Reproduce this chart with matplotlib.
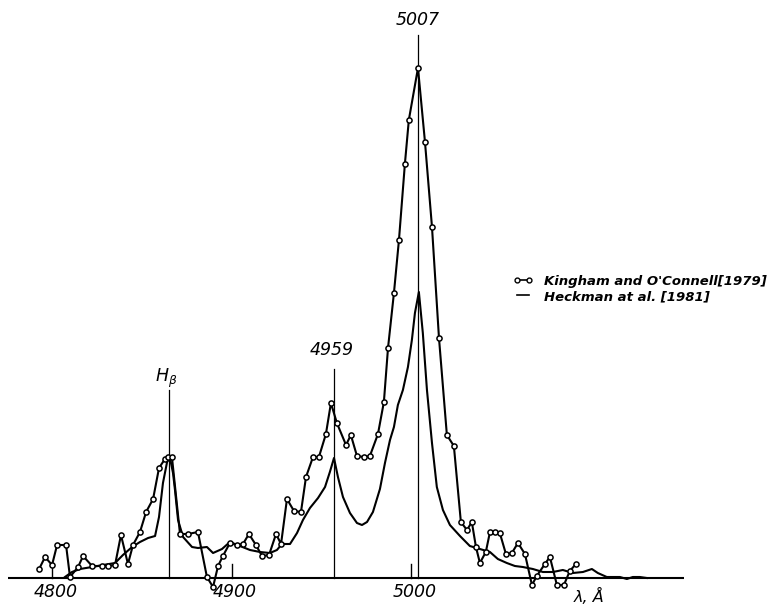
import matplotlib
matplotlib.use("Agg")
import matplotlib.pyplot as plt
from matplotlib.lines import Line2D

# Kingham & O'Connell (1979): wavelength (Å) and relative intensity
ko_wl = [4792.8, 4796.1, 4800.0, 4802.8, 4807.8, 4810.0, 4814.5, 4817.3, 4822.3, 4827.9,
         4831.2, 4835.1, 4838.4, 4842.3, 4845.1, 4849.0, 4852.4, 4856.3, 4859.6, 4862.9,
         4864.6, 4866.8, 4871.3, 4875.8, 4881.3, 4886.3, 4889.7, 4892.5, 4895.2, 4899.1,
         4903.0, 4906.4, 4909.7, 4913.6, 4917.0, 4920.9, 4924.8, 4927.6, 4930.9, 4934.8,
         4938.7, 4941.5, 4945.4, 4948.7, 4952.6, 4955.4, 4958.7, 4963.8, 4966.5, 4969.9,
         4973.8, 4977.1, 4981.6, 4984.9, 4987.2, 4990.5, 4993.3, 4996.6, 4998.8, 5003.9,
         5007.8, 5011.7, 5015.6, 5020.0, 5023.9, 5027.8, 5031.2, 5033.9, 5036.2, 5038.4,
         5041.7, 5044.0, 5046.8, 5049.5, 5052.9, 5056.2, 5059.6, 5063.5, 5067.4, 5070.1,
         5074.6, 5077.4, 5081.3, 5085.2, 5088.5, 5091.9]
ko_int = [9, 21, 13, 33, 33, 1, 11, 22, 12, 12,
          12, 13, 43, 14, 33, 46, 66, 79, 110, 119,
          121, 121, 44, 44, 46, 1, -9, 12, 22, 35,
          33, 34, 44, 33, 22, 23, 44, 34, 79, 67,
          66, 101, 121, 121, 144, 175, 155, 133, 143, 122,
          121, 122, 144, 176, 230, 285, 338, 414, 458, 510,
          436, 351, 240, 143, 132, 56, 48, 56, 31, 15,
          26, 46, 46, 45, 24, 25, 35, 24, -7, 2,
          14, 21, -7, -7, 7, 14]

# Heckman et al. (1981)
he_wl = [4807.2, 4811.1, 4815.6, 4822.3, 4828.4, 4835.1, 4839.5, 4844.6, 4849.0, 4853.5,
         4857.4, 4859.6, 4861.8, 4864.1, 4865.7, 4867.4, 4868.5, 4870.2, 4873.0, 4878.0,
         4881.3, 4886.3, 4889.7, 4894.7, 4899.1, 4904.7, 4910.3, 4915.9, 4921.4, 4925.3,
         4928.1, 4932.6, 4936.5, 4939.8, 4943.7, 4948.2, 4952.1, 4954.8, 4957.1, 4959.3,
         4962.1, 4966.0, 4969.9, 4972.7, 4975.5, 4978.8, 4982.7, 4985.5, 4988.3, 4990.5,
         4992.7, 4995.5, 4998.3, 5000.5, 5002.2, 5004.4, 5006.6, 5008.9, 5011.7, 5014.4,
         5017.8, 5021.7, 5027.3, 5032.8, 5038.4, 5044.0, 5048.4, 5053.4, 5057.9, 5062.3,
         5067.9, 5073.5, 5079.1, 5084.6, 5090.2, 5095.8, 5100.8, 5104.1, 5109.1, 5112.5,
         5116.4, 5120.3, 5123.6, 5127.5, 5131.4]
he_int = [1, 6, 9, 11, 13, 15, 23, 31, 36, 40,
          42, 61, 95, 116, 120, 105, 88, 58, 41, 31,
          30, 31, 25, 29, 36, 32, 28, 26, 25, 28,
          34, 34, 45, 58, 70, 80, 91, 106, 120, 101,
          81, 65, 55, 53, 56, 66, 89, 115, 138, 151,
          173, 188, 211, 238, 265, 286, 245, 188, 135, 91,
          68, 53, 42, 32, 29, 26, 19, 15, 12, 11,
          9, 6, 6, 8, 5, 6, 9, 5, 1, 1,
          1, -1, 1, 1, 0]

# Line markers
line_pos = [4865.2, 4957.1, 5003.9]
line_top = [188, 209, 543]
line_labels = ["$H_\\beta$", "4959", "5007"]
label_y = [200, 228, 558]
label_dx = [-1.5, -1.5, 0]

tick_vals = [4800, 4900, 5000]
tick_labels = ["4800", "4900", "5000"]

fig = plt.figure(figsize=(7.71, 6.07), dpi=100)
ax = fig.add_axes([0, 0, 1, 1])
ax.set_xlim(4771.0, 5200.6)
ax.set_ylim(-29, 578)
ax.axis("off")

# baseline axis
ax.plot([4775.5, 5152.0], [0, 0], color="black", lw=1.5, solid_capstyle="butt")
for t, lab in zip(tick_vals, tick_labels):
    ax.plot([t, t], [0, 14], color="black", lw=1.0)
    ax.text(t + 2, -14, lab, ha="center", va="center", fontsize=12.5, style="italic")
ax.text(5099, -18, "λ, Å", ha="center", va="center", fontsize=11.5, style="italic")

for x, top, lab, ly, dx in zip(line_pos, line_top, line_labels, label_y, label_dx):
    ax.plot([x, x], [0, top], color="black", lw=0.9)
    ax.text(x + dx, ly, lab, ha="center", va="center", fontsize=12.5, style="italic")

ax.plot(he_wl, he_int, color="black", lw=1.5)
ax.plot(ko_wl, ko_int, color="black", lw=1.5, marker="o", markersize=3.7,
        markerfacecolor="white", markeredgecolor="black", markeredgewidth=1.1)

handles = [Line2D([], [], color="black", lw=1.2, marker="o", markersize=3.5,
                  markerfacecolor="white", markeredgewidth=1.0),
           Line2D([], [], color="black", lw=1.2)]
labels = ["Kingham and O'Connell[1979]", "Heckman at al. [1981]"]
leg = ax.legend(handles, labels, loc="upper left", bbox_to_anchor=(0.665, 0.547),
                frameon=False, numpoints=2, handlelength=1.5, handletextpad=0.9,
                labelspacing=0.15, borderpad=0, borderaxespad=0,
                prop={"size": 9.5, "style": "italic", "weight": "bold"})

fig.savefig("out.png", dpi=100)
